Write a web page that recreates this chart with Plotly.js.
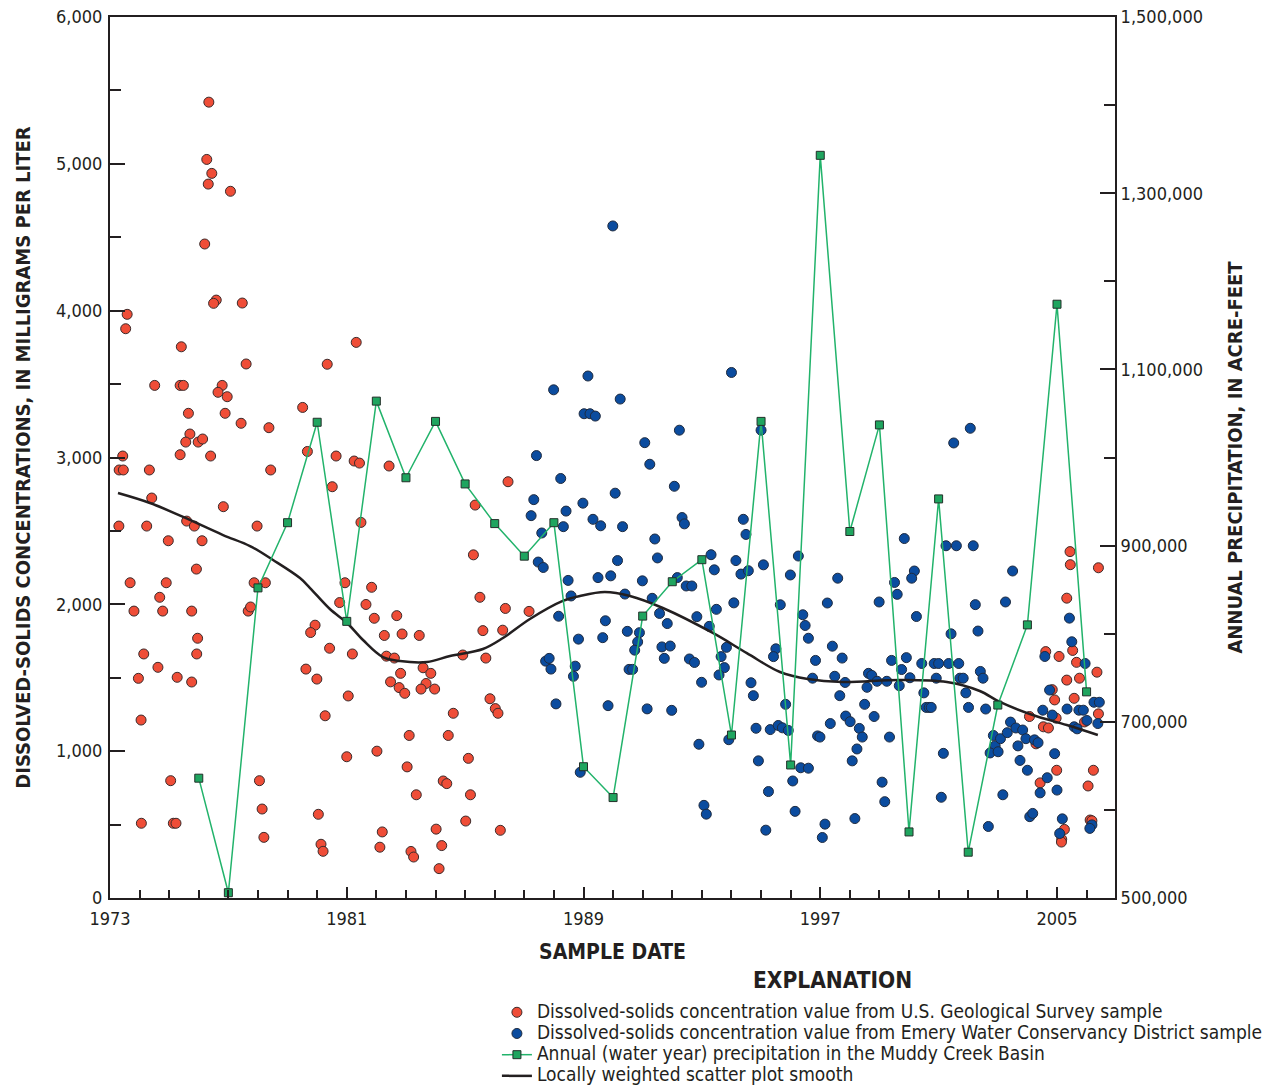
<!DOCTYPE html>
<html>
<head>
<meta charset="utf-8">
<script src="https://cdn.plot.ly/plotly-3.0.1.min.js"></script>
<style>html,body{margin:0;padding:0;background:#fff;}#chart{width:1266px;height:1086px;}</style>
</head>
<body>
<div id="chart"></div>
<script>
// USGS samples: decimal year, dissolved solids (mg/L)
const usgsYear = [1976.34,1976.27,1976.44,1976.32,1977.07,1976.20,1976.59,1976.50,1977.47,1973.58,1973.53,1975.41,1977.60,1974.51,1975.37,1975.48,1976.79,1976.65,1976.96,1975.65,1976.89,1977.43,1978.37,1975.70,1975.56,1975.98,1976.13,1973.43,1975.37,1976.40,1973.31,1973.45,1974.33,1978.43,1974.41,1976.83,1973.30,1974.24,1975.59,1975.85,1977.97,1974.97,1976.11,1975.92,1973.68,1974.90,1977.87,1978.25,1974.68,1973.81,1974.78,1975.76,1977.67,1977.75,1975.96,1974.14,1975.93,1974.62,1973.96,1975.27,1975.76,1979.62,1979.99,1981.05,1974.05,1980.27,1981.00,1975.05,1978.05,1978.14,1980.04,1978.20,1974.06,1975.14,1975.23,1980.13,1980.20,1981.32,1980.34,1979.51,1979.67,1980.64,1981.25,1981.43,1982.43,1980.51,1981.48,1986.45,1985.34,1985.28,1980.94,1980.76,1981.84,1981.65,1981.93,1982.69,1979.93,1979.78,1980.42,1981.19,1982.27,1982.87,1983.45,1985.50,1986.36,1985.60,1986.27,1982.34,1982.61,1984.92,1985.70,1982.82,1983.58,1983.84,1982.48,1982.77,1982.96,1983.68,1983.51,1983.97,1985.84,1986.02,1986.11,1984.60,1983.11,1984.43,1982.02,1985.11,1983.04,1984.26,1984.38,1983.35,1985.18,1982.20,1984.02,1985.02,1986.19,1982.12,1983.17,1983.26,1984.21,1984.12,1987.16,2005.44,2005.45,2006.40,2005.33,2005.53,2004.62,2005.07,2005.66,2006.35,2005.33,2005.76,2004.84,2004.92,2005.58,2004.07,2004.97,2006.40,2004.54,2004.71,2005.93,2004.29,2004.99,2006.23,2004.43,2006.05,2005.25,2005.16,2005.15,2006.12,2006.18];
const usgsTDS = [5420,5030,4935,4862,4813,4454,4072,4050,4052,3975,3877,3754,3637,3491,3491,3491,3491,3444,3414,3301,3301,3233,3203,3160,3105,3105,3126,3010,3019,3010,2915,2915,2915,2915,2724,2665,2533,2533,2567,2533,2533,2433,2433,2240,2147,2147,2147,2147,2048,1954,1954,1954,1954,1982,1769,1662,1662,1571,1496,1503,1471,1559,1491,1376,1212,1241,962,799,799,606,570,413,509,509,509,366,318,3784,3635,3341,3041,3010,2976,2962,2942,2801,2558,2835,2676,2337,2147,2012,2116,1999,1905,1923,1858,1808,1701,1662,1788,1798,1788,2048,1972,1821,1824,1647,1634,1655,1634,1530,1568,1530,1472,1433,1394,1461,1423,1423,1357,1290,1258,1258,1107,1107,1000,951,893,797,779,703,703,450,469,524,461,346,317,279,357,200,1952,2359,2270,2249,2042,1686,1678,1645,1605,1538,1484,1497,1419,1349,1360,1236,1225,1254,1166,1158,1199,1050,870,870,784,763,467,400,381,531,526];

// Emery Water Conservancy District samples
const emeryYear = [1989.99,1987.99,1989.15,1989.02,1989.22,1989.40,1990.24,1994.00,1987.41,1992.24,1991.07,1991.24,1988.23,1990.07,1987.32,1988.98,1987.23,1988.41,1992.07,1989.32,1989.58,1990.32,1992.33,1992.41,1988.32,1987.59,1991.41,1991.50,1987.47,1987.64,1990.15,1993.31,1993.42,1994.15,1994.40,1994.49,1995.00,1995.08,1994.32,1994.57,1995.99,1996.26,1988.48,1989.49,1989.92,1990.99,1992.17,1992.47,1992.66,1988.58,1990.40,1991.32,1988.16,1989.74,1991.57,1991.83,1993.49,1994.08,1992.83,1993.25,1995.65,1996.41,1996.49,1996.60,1988.83,1989.65,1990.48,1990.89,1990.83,1990.73,1991.65,1991.93,1991.73,1992.58,1992.75,1993.83,1993.65,1993.76,1993.58,1995.50,1995.42,1987.72,1987.84,1987.90,1988.72,1988.66,1990.54,1990.66,1992.99,1994.66,1994.74,1988.07,1989.83,1991.15,1991.98,1995.83,1994.83,1995.31,1995.58,1995.72,1995.92,1992.90,1993.91,1994.91,1996.34,1996.60,1996.07,1988.89,1995.25,1996.15,1993.07,1993.15,1995.16,1999.84,2002.07,2001.51,1997.59,2001.25,2001.60,2002.17,2000.18,2000.09,1999.51,1999.60,2003.50,1997.24,1998.99,2000.25,2003.26,2002.24,2002.33,2001.42,1997.41,1997.74,1996.84,1999.41,1999.75,1999.91,2000.43,2000.85,2001.00,2001.34,2001.68,1996.74,1997.49,1997.84,1998.63,1998.74,1998.58,1998.92,1999.25,1999.67,2000.03,2000.92,2001.72,2001.83,2002.41,2002.50,1997.66,1998.50,1998.82,2000.50,2000.58,2000.68,2000.75,2001.92,2002.01,2002.59,1997.86,1998.01,1997.34,1998.32,1998.42,1996.91,1996.99,1998.24,1998.08,1999.34,1999.09,1999.18,1998.17,1997.16,1997.07,2001.16,2001.09,2002.68,2002.85,2002.91,2002.74,2003.01,2003.09,2003.17,2003.43,2003.32,2003.61,2003.84,2003.68,2003.95,2003.75,2004.00,2004.24,2004.36,2004.08,2004.18,2004.43,2004.67,2004.92,2005.00,2004.52,2004.84,2004.59,2004.75,2005.42,2005.50,2005.95,2005.34,2005.74,2005.89,2005.58,2005.68,2006.01,2006.25,2006.43,2006.38,2005.18,2005.09,2006.18,2006.11];
const emeryTDS = [4577,3461,3555,3298,3298,3282,3398,3579,3013,3186,3101,2954,2857,2757,2713,2689,2604,2635,2804,2579,2535,2529,2591,2548,2529,2486,2445,2316,2288,2251,2298,2338,2235,2298,2579,2476,3186,2269,2206,2229,2200,2329,2163,2182,2194,2160,2182,2125,2125,2057,2070,2041,1919,1888,1938,1869,1966,2010,1916,1850,1997,1929,1856,1769,1763,1773,1816,1807,1744,1688,1710,1716,1632,1628,1604,1707,1644,1569,1519,1697,1644,1613,1632,1559,1579,1510,1557,1557,1469,1466,1378,1322,1310,1288,1278,1319,1156,1147,1175,1159,1141,1047,1078,934,887,884,797,856,725,590,631,571,462,2448,3199,3099,2178,2399,2399,2399,2227,2178,2149,2068,2227,2009,2016,1917,2016,1998,1818,1799,1715,1634,1618,1618,1556,1637,1597,1597,1597,1597,1597,1497,1510,1468,1530,1516,1435,1476,1476,1446,1500,1497,1497,1497,1543,1497,1378,1319,1236,1397,1298,1298,1298,1397,1298,1287,1239,1201,1188,1155,1096,1104,1096,1015,934,1096,789,656,541,503,412,985,686,487,1107,1036,988,996,1085,703,1198,1126,1158,1144,1036,1085,937,870,1077,1058,554,576,716,819,983,735,1279,1246,1645,1416,1906,1745,1597,1287,1279,1279,1166,1152,1209,1333,1333,1188,539,439,498,474];

// Annual (water year) precipitation, acre-feet
const precipYear = [1976,1977,1978,1979,1980,1981,1982,1983,1984,1985,1986,1987,1988,1989,1990,1991,1992,1993,1994,1995,1996,1997,1998,1999,2000,2001,2002,2003,2004,2005,2006];
const precipAF = [636000,506000,852000,926000,1040000,814000,1064000,977000,1041000,970000,925000,888000,926000,649000,614000,820000,859000,884000,685000,1041000,651000,1343000,916000,1037000,575000,953000,552000,719000,810000,1174000,734000];

// Locally weighted scatter plot smooth
const loessYear = [1973.27,1974.35,1975.47,1976.82,1977.73,1978.51,1979.42,1979.76,1980.43,1981.01,1981.55,1982.22,1982.80,1983.71,1984.49,1985.60,1986.28,1987.19,1988.30,1988.88,1989.72,1990.57,1991.68,1993.37,1994.52,1995.64,1996.58,1997.76,1999.69,2001.28,2002.39,2003.07,2004.18,2005.33,2006.38];
const loessTDS = [2758,2690,2595,2472,2397,2302,2179,2111,1968,1873,1757,1641,1614,1607,1648,1696,1771,1900,2023,2057,2084,2057,1975,1805,1668,1539,1491,1471,1485,1471,1410,1335,1246,1178,1110];

const xTicks = [1973,1981,1989,1997,2005];
const xTickText = ['1973','1981','1989','1997','2005'];

const legendNames = [
  'Dissolved-solids concentration value from U.S. Geological Survey sample',
  'Dissolved-solids concentration value from Emery Water Conservancy District sample',
  'Annual (water year) precipitation in the Muddy Creek Basin',
  'Locally weighted scatter plot smooth'
];

const FONT = '"DejaVu Sans Condensed", "Liberation Sans Narrow", "Arial Narrow", sans-serif';
const INK = '#231f20';
const lg = s => '<span style="font-size:19px">' + s + '</span>';

const traces = [
  {
    name: lg(legendNames[0]),
    x: usgsYear, y: usgsTDS, type: 'scatter', mode: 'markers',
    marker: {color: '#ef4d37', size: 10, line: {color: '#3b2b2b', width: 1}}
  },
  {
    name: lg(legendNames[1]),
    x: emeryYear, y: emeryTDS, type: 'scatter', mode: 'markers',
    marker: {color: '#0b4c9f', size: 10, line: {color: '#1f2b3f', width: 1}}
  },
  {
    name: lg(legendNames[2]),
    x: precipYear, y: precipAF, type: 'scatter', mode: 'lines+markers', yaxis: 'y2',
    line: {color: '#22b36b', width: 1.5},
    marker: {symbol: 'square', color: '#1fa55f', size: 8, line: {color: '#23302a', width: 1}},
    cliponaxis: false
  },
  {
    name: lg(legendNames[3]),
    x: loessYear, y: loessTDS, type: 'scatter', mode: 'lines',
    line: {color: INK, width: 2.5, shape: 'spline'}
  }
];

const axisCommon = {
  showline: true, linecolor: INK, linewidth: 2, showgrid: false, zeroline: false,
  ticks: 'inside', tickcolor: INK, tickwidth: 1.5,
  tickfont: {family: FONT, size: 18, color: INK}
};

const layout = {
  width: 1266, height: 1086,
  margin: {l: 110, r: 151, t: 17, b: 188, autoexpand: false},
  paper_bgcolor: '#fff', plot_bgcolor: '#fff',
  showlegend: true,
  legend: {
    x: 0.385, y: -0.112, xanchor: 'left', yanchor: 'top',
    font: {family: FONT, size: 14, color: INK},
    bgcolor: 'rgba(0,0,0,0)', borderwidth: 0, tracegroupgap: 0
  },
  xaxis: Object.assign({}, axisCommon, {
    range: [1973, 2006.96], mirror: true,
    tickmode: 'array', tickvals: xTicks, ticktext: xTickText, ticklen: 11,
    ticklabelstandoff: 3,
    minor: {dtick: 1, tick0: 1973, ticks: 'inside', ticklen: 8, tickcolor: INK, tickwidth: 1.5},
    title: {text: '<b>SAMPLE DATE</b>', font: {family: FONT, size: 21, color: INK}, standoff: 17}
  }),
  yaxis: Object.assign({}, axisCommon, {
    range: [0, 6000], tick0: 0, dtick: 1000, ticklen: 15, tickformat: ',d',
    ticklabelstandoff: 2,
    minor: {dtick: 500, ticks: 'inside', ticklen: 11, tickcolor: INK, tickwidth: 1.5},
    title: {text: '<b>DISSOLVED-SOLIDS CONCENTRATIONS, IN MILLIGRAMS PER LITER</b>', font: {family: FONT, size: 20, color: INK}, standoff: 20}
  }),
  yaxis2: Object.assign({}, axisCommon, {
    overlaying: 'y', side: 'right', range: [500000, 1500000],
    tick0: 500000, dtick: 200000, ticklen: 15, tickformat: ',d',
    minor: {dtick: 100000, ticks: 'inside', ticklen: 11, tickcolor: INK, tickwidth: 1.5},
    title: {text: '<b>ANNUAL PRECIPITATION, IN ACRE-FEET</b>', font: {family: FONT, size: 20, color: INK}, standoff: 26}
  }),
  annotations: [{
    text: '<b>EXPLANATION</b>', xref: 'paper', yref: 'paper',
    x: 0.719, y: -0.093, xanchor: 'center', yanchor: 'middle', showarrow: false,
    font: {family: FONT, size: 22.5, color: INK}
  }]
};

Plotly.newPlot('chart', traces, layout, {displayModeBar: false, responsive: false});
</script>
</body>
</html>
